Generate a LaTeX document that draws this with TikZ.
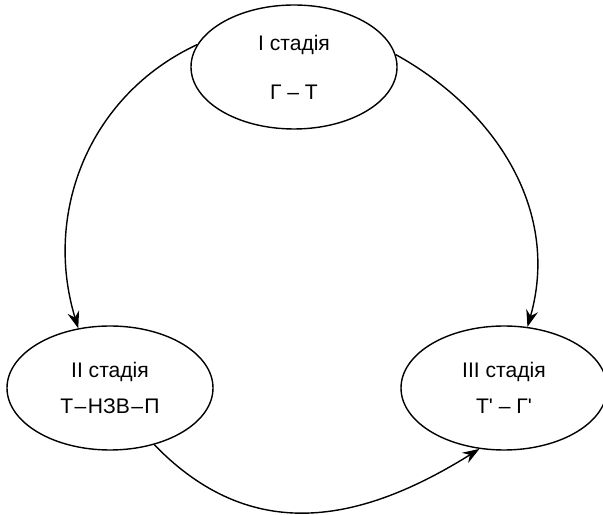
\documentclass[tikz,border=0pt]{standalone}
\usepackage{fontspec}
\setmainfont{Liberation Sans}
\usetikzlibrary{arrows.meta,shapes.geometric}

\begin{document}
\begin{tikzpicture}[>={Stealth[length=12pt,width=8.5pt,inset=4pt]},line width=1pt,
 font=\fontsize{15pt}{18pt}\selectfont,x=1.000cm,y=1.000cm,
 stage/.style={draw,ellipse,align=center,inner sep=0pt,minimum width=5.150cm,minimum height=3.100cm}]
\useasboundingbox (0.000,0.000) rectangle (15.075,12.850);
\node[stage] (s1) at (7.350,11.175) {I стадія\\[17pt]Г – Т};
\node[stage] (s2) at (2.750,3.150) {II стадія\\[8pt]Т\kern1pt–\kern1pt НЗВ\kern1pt–\kern1pt П};
\node[stage] (s3) at (12.600,3.150) {III стадія\\[8pt]Т\textquotesingle{} – Г\textquotesingle};
\draw[->] (s1.167) to[out=205,in=107]  (s2.118);
\draw[->] (s1.7) to[out=331,in=74]  (s3.69);
\draw[->] (s2.-52) to[out=314,in=212,looseness=1.1]  (s3.248);
\end{tikzpicture}
\end{document}
